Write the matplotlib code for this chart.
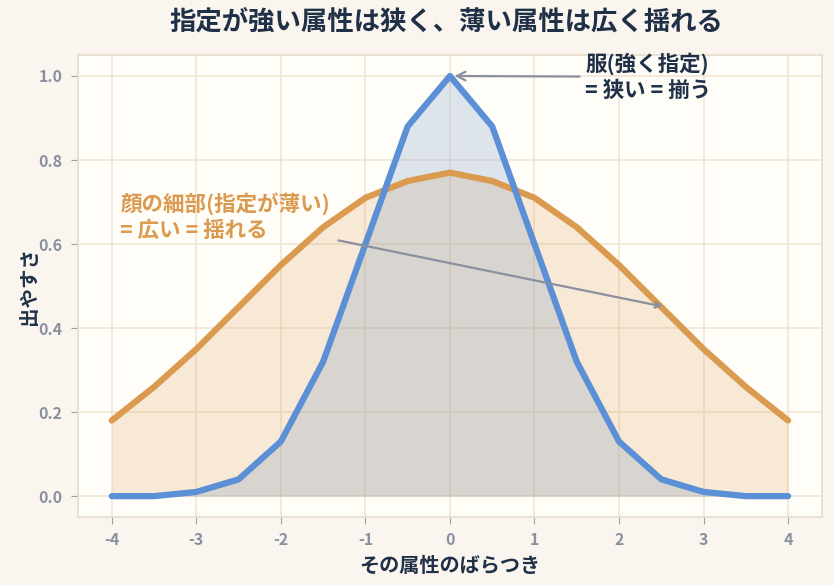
import matplotlib
matplotlib.use("Agg")
import matplotlib.pyplot as plt

plt.rcParams['font.family'] = ['Noto Sans CJK JP', 'DejaVu Sans']

# data
x = [-4, -3.5, -3, -2.5, -2, -1.5, -1, -0.5, 0, 0.5, 1, 1.5, 2, 2.5, 3, 3.5, 4]
narrow = [0.0, 0.0, 0.01, 0.04, 0.13, 0.32, 0.6, 0.88, 1.0, 0.88, 0.6, 0.32, 0.13, 0.04, 0.01, 0.0, 0.0]
wide = [0.18, 0.26, 0.35, 0.45, 0.55, 0.64, 0.71, 0.75, 0.77, 0.75, 0.71, 0.64, 0.55, 0.45, 0.35, 0.26, 0.18]
xticks = [-4, -3, -2, -1, 0, 1, 2, 3, 4]
yticks = [0.0, 0.2, 0.4, 0.6, 0.8, 1.0]

blue = '#5b8fd6'
orange = '#da9a4f'
navy = '#1f3047'
grey = '#8a909f'

fig = plt.figure(figsize=(8.34, 5.85), dpi=100, facecolor='#faf6ef')
ax = fig.add_axes([0.0935, 0.116, 0.892, 0.79])
ax.set_facecolor('#fffdf8')

ax.fill_between(x, wide, color=orange, alpha=0.2, lw=0)
ax.fill_between(x, narrow, color='#7f9cc6', alpha=0.25, lw=0)
ax.plot(x, wide, color=orange, lw=4.5, solid_capstyle='round', zorder=3)
ax.plot(x, narrow, color=blue, lw=4.5, solid_capstyle='round', zorder=3)

ax.set_xlim(-4.4, 4.4)
ax.set_ylim(-0.05, 1.05)
ax.set_xticks(xticks)
ax.set_xticklabels([str(t) for t in xticks])
ax.set_yticks(yticks)
ax.set_yticklabels([f"{t:.1f}" for t in yticks])
ax.grid(True, color='#f0e5d5', lw=1.2)
ax.set_axisbelow(True)
for s in ax.spines.values():
    s.set_color('#e6dccb')
    s.set_linewidth(1.2)
ax.tick_params(colors='#9aa0ad', labelcolor=grey, labelsize=11.5, length=5, pad=6)
for lab in ax.get_xticklabels() + ax.get_yticklabels():
    lab.set_fontweight('bold')

ax.set_xlabel('その属性のばらつき', fontsize=14.5, fontweight='bold', color=navy, labelpad=5)
ax.set_ylabel('出やすさ', fontsize=14, fontweight='bold', color=navy, labelpad=0)
fig.suptitle('指定が強い属性は狭く、薄い属性は広く揺れる', fontsize=19, fontweight='bold',
             color=navy, x=0.535, y=0.985)

ax.annotate('服(強く指定)\n= 狭い = 揃う', xy=(0.02, 1.0), xytext=(1.6, 0.998),
            fontsize=15.5, fontweight='bold', color=navy, va='center', linespacing=1.3,
            arrowprops=dict(arrowstyle='->', color=grey, lw=1.6))
ax.text(-3.9, 0.665, '顔の細部(指定が薄い)\n= 広い = 揺れる', fontsize=15.5, fontweight='bold',
        color=orange, va='center', linespacing=1.3)
ax.annotate('', xy=(2.55, 0.45), xytext=(-1.35, 0.61),
            arrowprops=dict(arrowstyle='->', color=grey, lw=1.6), zorder=4)

fig.savefig('out.png', dpi=100, facecolor=fig.get_facecolor())
